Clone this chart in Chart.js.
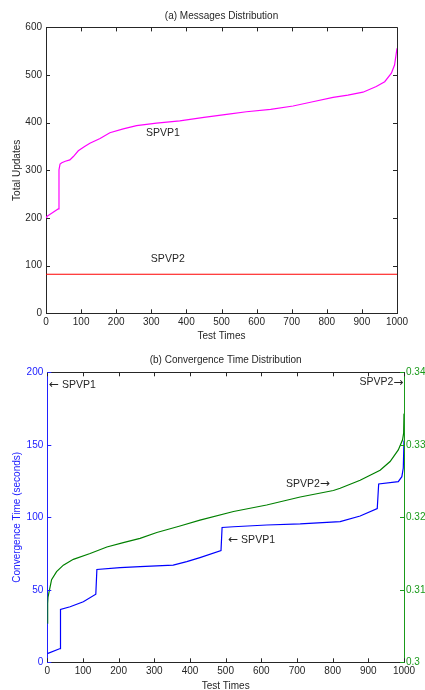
<!DOCTYPE html>
<html>
<head>
<meta charset="utf-8">
<script src="https://cdn.jsdelivr.net/npm/chart.js@4.4.1/dist/chart.umd.min.js"></script>
<style>
html,body{margin:0;padding:0;background:#fff;width:425px;height:690px;overflow:hidden}
canvas{position:absolute;left:0}
#msgChart{top:0}
#convChart{top:345px}
</style>
</head>
<body>
<canvas id="msgChart" width="425" height="345"></canvas>
<canvas id="convChart" width="425" height="352"></canvas>
<script>

// (a) messages: total updates per test run, sorted
const msgTests = [0, 2, 30, 35, 37, 40, 45, 55, 68, 78, 92, 110, 125, 154, 182, 220, 258, 315, 381, 450, 520, 571, 640, 704, 760, 818, 860, 903, 941, 965, 984, 993, 998, 1000];
const spvp1Updates = [200, 203, 217, 219, 301, 313, 316, 319, 322, 329, 341, 350, 357, 367, 379, 387, 394, 399, 404, 411, 418, 423, 428, 435, 444, 453, 458, 464, 476, 486, 504, 521, 546, 556];
const spvp2Tests = [0, 1000];
const spvp2Updates = [82, 82];

// (b) convergence time, SPVP1 on the left axis (seconds), SPVP2 on the right axis
const convTests1 = [0, 31, 36, 37, 64, 101, 136, 139, 204, 260, 353, 391, 428, 487, 490, 522, 615, 709, 821, 877, 925, 929, 984, 994, 998, 1000];
const spvp1Seconds = [6, 9, 9.5, 36.5, 38.3, 41.8, 47, 64, 65.3, 66, 67, 69.4, 72.2, 77, 93, 93.5, 94.7, 95.4, 97, 100.9, 106, 123, 124.6, 128, 134, 153];
const convTests2 = [0, 1, 2, 12, 26, 45, 73, 120, 167, 213, 260, 307, 372, 428, 522, 615, 709, 802, 821, 877, 933, 961, 984, 996, 999, 1000];
const spvp2Seconds = [0.3054, 0.3081, 0.309, 0.3114, 0.3125, 0.3134, 0.3142, 0.315, 0.3159, 0.3165, 0.3171, 0.3179, 0.3188, 0.3196, 0.3208, 0.3217, 0.3228, 0.3237, 0.324, 0.3251, 0.3265, 0.3277, 0.3293, 0.3307, 0.3316, 0.3343];

// tick values
const testTicks = [0, 100, 200, 300, 400, 500, 600, 700, 800, 900, 1000];
const updateTicks = [0, 100, 200, 300, 400, 500, 600];
const secondTicks = [0, 50, 100, 150, 200];
const rightTicks = [0.3, 0.31, 0.32, 0.33, 0.34];

const FONT = '"Liberation Sans", Arial, Helvetica, sans-serif';
const ARROWFONT = '"DejaVu Sans", sans-serif';
const INK = '#262626';

function pts(xs, ys){
  return xs.map((x,i)=>({x:x, y:ys[i]}));
}

function fixedTicks(vals){
  return function(axis){
    axis.ticks = vals.map(v=>({value:v}));
  };
}

// draw a note made of pieces, arrows in a font that has wide arrow glyphs
function drawNote(ctx, parts, x, y, align){
  const fonts = parts.map(p=>(p.arrow ? '12px ' + ARROWFONT : '10.5px ' + FONT));
  const widths = parts.map((p,i)=>{ ctx.font = fonts[i]; return ctx.measureText(p.t).width; });
  const total = widths.reduce((s,w)=>s+w, 0);
  let cx = align==='right' ? x-total : (align==='center' ? x-total/2 : x);
  ctx.textAlign = 'left';
  parts.forEach((p,i)=>{
    ctx.font = fonts[i];
    ctx.fillText(p.t, cx, y);
    cx += widths[i];
  });
}

// box, inward ticks, titles and in-plot notes
const framePlugin = {
  id:'frame',
  afterDraw(chart, args, opts){
    const ctx = chart.ctx;
    const a = chart.chartArea;
    const sx = chart.scales.x;
    const sy = chart.scales.y;
    const sy2 = chart.scales.y2;
    const L = 4;
    ctx.save();
    ctx.lineWidth = 1;

    // top edge
    ctx.strokeStyle = INK;
    ctx.beginPath();
    ctx.moveTo(a.left, Math.round(a.top)+0.5);
    ctx.lineTo(a.right, Math.round(a.top)+0.5);
    if(!sy2){
      ctx.moveTo(Math.round(a.right)+0.5, a.top);
      ctx.lineTo(Math.round(a.right)+0.5, a.bottom);
    }
    ctx.stroke();

    // x ticks, bottom and top
    ctx.beginPath();
    testTicks.forEach(v=>{
      const px = Math.round(sx.getPixelForValue(v))+0.5;
      ctx.moveTo(px, a.bottom); ctx.lineTo(px, a.bottom-L);
      ctx.moveTo(px, a.top); ctx.lineTo(px, a.top+L);
    });
    ctx.stroke();

    // y ticks
    ctx.strokeStyle = opts.leftColor;
    ctx.beginPath();
    opts.leftTicks.forEach(v=>{
      const py = Math.round(sy.getPixelForValue(v))+0.5;
      ctx.moveTo(a.left, py); ctx.lineTo(a.left+L, py);
      if(!sy2){ ctx.moveTo(a.right, py); ctx.lineTo(a.right-L, py); }
    });
    ctx.stroke();
    if(sy2){
      ctx.strokeStyle = opts.rightColor;
      ctx.beginPath();
      rightTicks.forEach(v=>{
        const py = Math.round(sy2.getPixelForValue(v))+0.5;
        ctx.moveTo(a.right, py); ctx.lineTo(a.right-L, py);
      });
      ctx.stroke();
    }

    // title
    ctx.font = '10px ' + FONT;
    ctx.fillStyle = INK;
    ctx.textAlign = 'center';
    ctx.textBaseline = 'middle';
    ctx.fillText(opts.title, (a.left+a.right)/2, opts.titleY);

    // notes placed in data coordinates
    opts.notes.forEach(n=>{
      drawNote(ctx, n.parts, sx.getPixelForValue(n.x), sy.getPixelForValue(n.y), n.align);
    });
    ctx.restore();
  }
};

function xAxis(h, padBottom){
  return {
    type:'linear', min:0, max:1000,
    afterBuildTicks: fixedTicks(testTicks),
    afterFit: s=>{ s.height = h; },
    grid:{display:false, drawTicks:false},
    border:{display:true, color:INK, width:1},
    ticks:{color:INK, font:{family:FONT, size:10}, padding:3, maxRotation:0, autoSkip:false,
      callback: v=>String(v)},
    title:{display:true, text:'Test Times', color:INK, font:{family:FONT, size:10}, padding:{top:0, bottom:padBottom}}
  };
}

// (a) Messages Distribution
new Chart(document.getElementById('msgChart'), {
  type:'line',
  data:{
    datasets:[
      {label:'SPVP1', data:pts(msgTests, spvp1Updates), borderColor:'#ff00ff', borderWidth:1.2, pointRadius:0, tension:0},
      {label:'SPVP2', data:pts(spvp2Tests, spvp2Updates), borderColor:'#ff0000', borderWidth:1.2, pointRadius:0, tension:0}
    ]
  },
  options:{
    responsive:false,
    animation:false,
    events:[],
    layout:{padding:{left:0, right:28, top:27.4, bottom:0}},
    plugins:{
      legend:{display:false},
      tooltip:{enabled:false},
      frame:{
        title:'(a) Messages Distribution', titleY:16,
        leftColor:INK, leftTicks:updateTicks,
        notes:[
          {parts:[{t:'SPVP1'}], x:333, y:378, align:'center'},
          {parts:[{t:'SPVP2'}], x:347, y:114, align:'center'}
        ]
      }
    },
    scales:{
      x: xAxis(31.7, 3),
      y:{
        type:'linear', min:0, max:600,
        afterBuildTicks: fixedTicks(updateTicks),
        afterFit: s=>{ s.width = 46; },
        grid:{display:false, drawTicks:false},
        border:{display:true, color:INK, width:1},
        ticks:{color:INK, font:{family:FONT, size:10}, padding:4},
        title:{display:true, text:'Total Updates', color:INK, font:{family:FONT, size:10}, padding:{top:11, bottom:0}}
      }
    }
  },
  plugins:[framePlugin]
});

// (b) Convergence Time Distribution
const blue = '#2020ff';
const green = '#1a9a1a';
new Chart(document.getElementById('convChart'), {
  type:'line',
  data:{
    datasets:[
      {label:'SPVP1', data:pts(convTests1, spvp1Seconds), yAxisID:'y', borderColor:'#0000ff', borderWidth:1.2, pointRadius:0, tension:0},
      {label:'SPVP2', data:pts(convTests2, spvp2Seconds), yAxisID:'y2', borderColor:'#008000', borderWidth:1.2, pointRadius:0, tension:0}
    ]
  },
  options:{
    responsive:false,
    animation:false,
    events:[],
    layout:{padding:{left:0, right:0, top:27.3, bottom:0}},
    plugins:{
      legend:{display:false},
      tooltip:{enabled:false},
      frame:{
        title:'(b) Convergence Time Distribution', titleY:15,
        leftColor:blue, rightColor:green, leftTicks:secondTicks,
        notes:[
          {parts:[{t:'\u2190', arrow:true}, {t:' SPVP1'}], x:5, y:191, align:'left'},
          {parts:[{t:'SPVP2'}, {t:'\u2192', arrow:true}], x:998, y:193, align:'right'},
          {parts:[{t:'SPVP2'}, {t:'\u2192', arrow:true}], x:669, y:123, align:'left'},
          {parts:[{t:'\u2190', arrow:true}, {t:' SPVP1'}], x:507, y:84.4, align:'left'}
        ]
      }
    },
    scales:{
      x: xAxis(34.7, 5),
      y:{
        type:'linear', position:'left', min:0, max:200,
        afterBuildTicks: fixedTicks(secondTicks),
        afterFit: s=>{ s.width = 47.3; },
        grid:{display:false, drawTicks:false},
        border:{display:true, color:blue, width:1},
        ticks:{color:blue, font:{family:FONT, size:10}, padding:4},
        title:{display:true, text:'Convergence Time (seconds)', color:blue, font:{family:FONT, size:10}, padding:{top:11, bottom:0}}
      },
      y2:{
        type:'linear', position:'right', min:0.3, max:0.34,
        afterBuildTicks: fixedTicks(rightTicks),
        afterFit: s=>{ s.width = 21; },
        grid:{display:false, drawTicks:false},
        border:{display:true, color:green, width:1},
        ticks:{color:green, font:{family:FONT, size:10}, padding:2,
          callback: v=>String(Math.round(v*100)/100)}
      }
    }
  },
  plugins:[framePlugin]
});
</script>
</body>
</html>
